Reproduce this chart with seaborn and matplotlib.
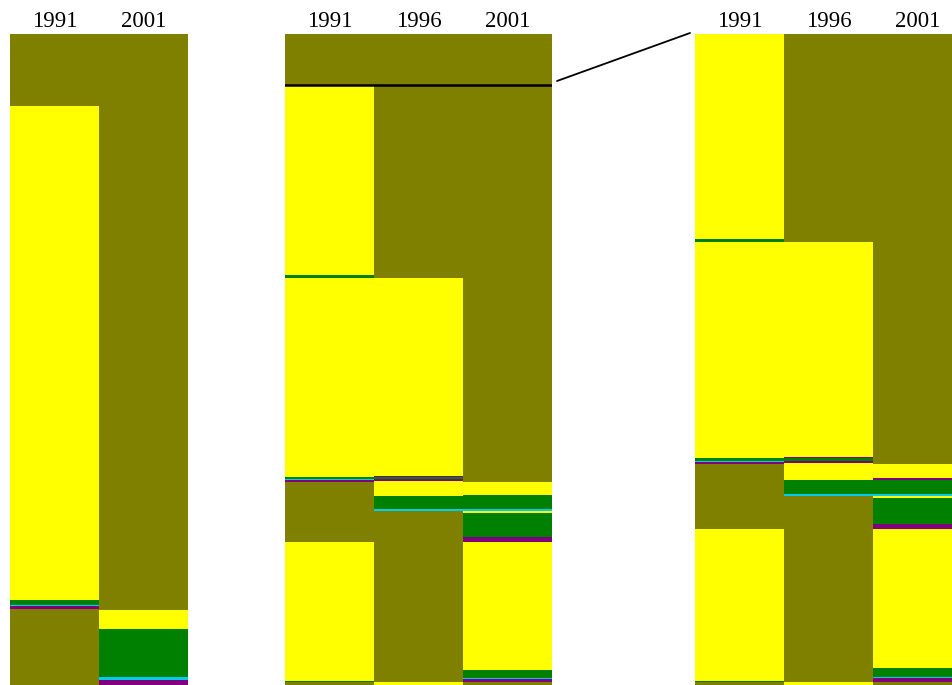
import matplotlib
matplotlib.use("Agg")
import matplotlib.pyplot as plt
from matplotlib.patches import ConnectionPatch
import pandas as pd
import seaborn as sns

sns.set_theme(style="white")
plt.rcParams["font.family"] = ["Liberation Serif", "DejaVu Serif"]

# Category colours
palette = {
    "olive": "#808000",
    "yellow": "#ffff00",
    "green": "#008000",
    "cyan": "#00ccee",
    "purple": "#800080",
}

# Segments of each column, listed from top to bottom (shares out of 651)
p1_years = ["1991", "2001"]
p1_1991_cats = ["olive", "yellow", "green", "cyan", "purple", "olive"]
p1_1991_vals = [72, 494, 5, 1, 3, 76]
p1_2001_cats = ["olive", "yellow", "green", "cyan", "purple"]
p1_2001_vals = [576, 19, 48, 3, 5]

p2_years = ["1991", "1996", "2001"]
p2_1991_cats = ["olive", "yellow", "green", "yellow", "green", "cyan", "purple",
                "olive", "yellow", "green", "olive"]
p2_1991_vals = [51, 190, 3, 199, 2, 1, 2, 60, 139, 1, 3]
p2_1996_cats = ["olive", "olive", "yellow", "purple", "green", "purple", "yellow",
                "green", "cyan", "olive", "yellow"]
p2_1996_vals = [51, 193, 198, 1, 2, 2, 15, 13, 2, 171, 3]
p2_2001_cats = ["olive", "olive", "yellow", "green", "cyan", "yellow", "green",
                "purple", "yellow", "green", "cyan", "purple", "olive"]
p2_2001_vals = [51, 397, 13, 14, 2, 2, 24, 5, 128, 8, 1, 3, 3]

p3_years = ["1991", "1996", "2001"]
p3_1991_cats = ["yellow", "green", "yellow", "green", "cyan", "purple", "olive",
                "yellow", "green", "olive"]
p3_1991_vals = [205, 3, 216, 3, 1, 2, 65, 152, 1, 3]
p3_1996_cats = ["olive", "yellow", "purple", "green", "purple", "yellow", "green",
                "cyan", "olive", "yellow"]
p3_1996_vals = [208, 215, 1, 3, 2, 17, 14, 2, 186, 3]
p3_2001_cats = ["olive", "yellow", "purple", "green", "cyan", "yellow", "green",
                "purple", "yellow", "green", "cyan", "purple", "olive"]
p3_2001_vals = [430, 14, 2, 14, 2, 2, 26, 5, 139, 9, 1, 4, 3]

TOTAL = 651
SPLIT = 600  # level of the boundary drawn across the middle panel


def segments(year, cats, vals):
    rows = []
    top = TOTAL
    for c, v in zip(cats, vals):
        rows.append({"year": year, "cat": c, "height": v, "bottom": top - v})
        top -= v
    return rows


panels = [
    (p1_years, [(p1_1991_cats, p1_1991_vals), (p1_2001_cats, p1_2001_vals)]),
    (p2_years, [(p2_1991_cats, p2_1991_vals), (p2_1996_cats, p2_1996_vals),
                (p2_2001_cats, p2_2001_vals)]),
    (p3_years, [(p3_1991_cats, p3_1991_vals), (p3_1996_cats, p3_1996_vals),
                (p3_2001_cats, p3_2001_vals)]),
]

W, H = 953, 685
fig = plt.figure(figsize=(W / 100, H / 100), dpi=100)

# Axes placement in pixels: left edge, column width
lefts = [10, 285, 695]
colw = 89
top_px, bot_px = 34, 685

axes = []
for (years, cols), left in zip(panels, lefts):
    ax = fig.add_axes([left / W, 1 - bot_px / H, colw * len(years) / W,
                       (bot_px - top_px) / H])
    rows = []
    for y, (cats, vals) in zip(years, cols):
        rows += segments(y, cats, vals)
    df = pd.DataFrame(rows)
    for _, r in df.iterrows():
        sns.barplot(x=[r["year"]], y=[r["height"]], bottom=[r["bottom"]],
                    order=years, color=palette[r["cat"]], width=1.0,
                    linewidth=0, saturation=1, ax=ax)
    ax.set_xlim(-0.5, len(years) - 0.5)
    ax.set_ylim(0, TOTAL)
    ax.set_xlabel("")
    ax.set_ylabel("")
    ax.set_yticks([])
    ax.xaxis.tick_top()
    ax.tick_params(axis="x", top=True, labeltop=True, bottom=False,
                   labelbottom=False, length=0, pad=1.5, labelsize=16.5,
                   colors="black")
    for s in ax.spines.values():
        s.set_visible(False)
    axes.append(ax)

ax1, ax2, ax3 = axes

# Boundary across the middle panel and the zoom connector to the right panel
ax2.axhline(SPLIT, color="black", lw=1.8, xmin=0, xmax=1)
con = ConnectionPatch(xyA=(2.5 + 5 / colw, SPLIT + 4), coordsA=ax2.transData,
                      xyB=(-0.5 - 5 / colw, TOTAL + 1), coordsB=ax3.transData,
                      color="black", lw=1.3)
fig.add_artist(con)

fig.savefig("out.png", dpi=100)
